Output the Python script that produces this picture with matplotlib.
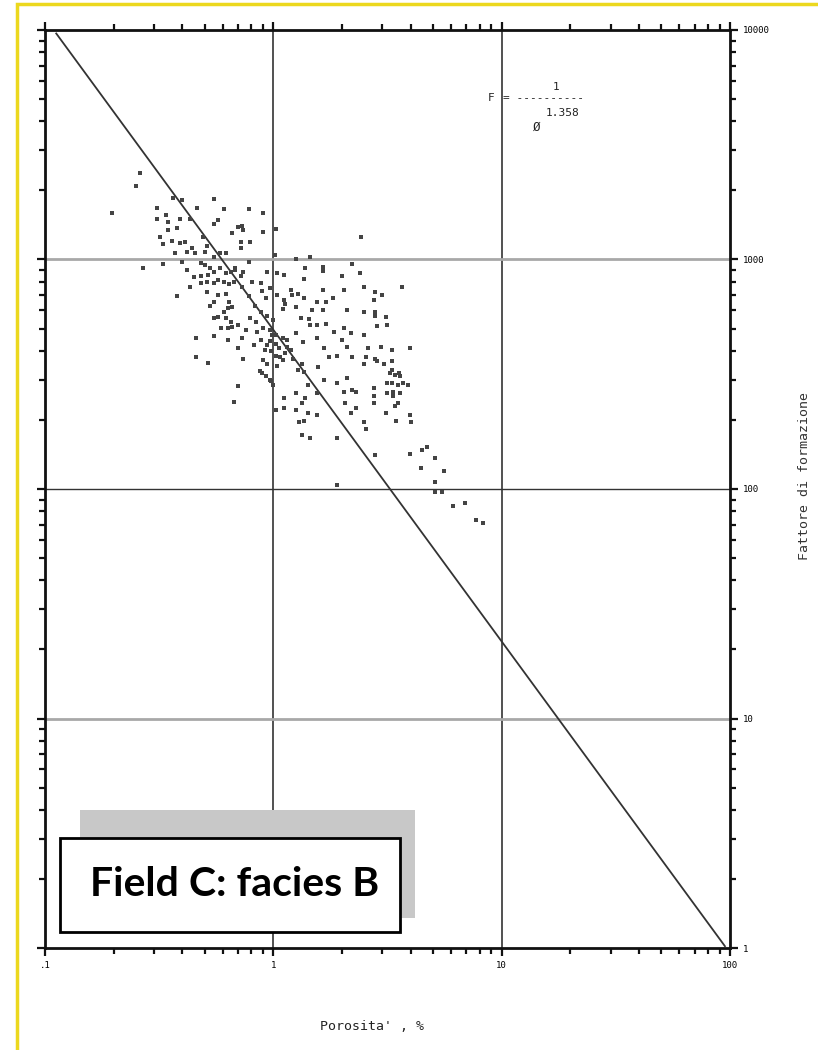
"""
Formation factor vs porosity cross-plot (Field C, facies B).
Log-log scatter with the Archie-type fit F = 1 / phi^1.358.
"""

import matplotlib
matplotlib.use("Agg")
import matplotlib.pyplot as plt
import numpy as np
from matplotlib.patches import Rectangle
from matplotlib.ticker import FixedLocator, FixedFormatter, LogLocator, NullFormatter

# --------------------------------------------------------------------------- #
# Data: porosity in %, formation factor F
# --------------------------------------------------------------------------- #
SAMPLES = [
    (0.261, 2380), (0.25, 2100), (0.196, 1590), (0.31, 1670), (0.31, 1500),
    (0.365, 1850), (0.40, 1815), (0.34, 1560), (0.345, 1460), (0.39, 1500),
    (0.38, 1370), (0.347, 1345), (0.32, 1250), (0.33, 1170), (0.36, 1205),
    (0.39, 1180), (0.41, 1190), (0.43, 1500), (0.465, 1670), (0.55, 1830),
    (0.61, 1660), (0.57, 1490), (0.55, 1430), (0.49, 1250), (0.51, 1150),
    (0.44, 1120), (0.42, 1075), (0.455, 1065), (0.50, 1080), (0.55, 1030),
    (0.585, 1070), (0.62, 1070), (0.66, 1310), (0.70, 1385), (0.37, 1065),
    (0.33, 960), (0.27, 920), (0.40, 975), (0.48, 965), (0.50, 950),
    (0.53, 920), (0.42, 900), (0.52, 860), (0.55, 880), (0.585, 920),
    (0.62, 870), (0.65, 880), (0.68, 920), (0.45, 835), (0.48, 845),
    (0.48, 790), (0.43, 760), (0.51, 800), (0.55, 790), (0.57, 815),
    (0.61, 800), (0.64, 780), (0.67, 800), (0.51, 720), (0.57, 700),
    (0.62, 710), (0.64, 650), (0.38, 690), (0.55, 650), (0.53, 630),
    (0.63, 615), (0.66, 620), (0.61, 590), (0.55, 555), (0.57, 560),
    (0.62, 555), (0.65, 535), (0.59, 505), (0.63, 505), (0.66, 510),
    (0.70, 520), (0.55, 465), (0.46, 455), (0.63, 446), (0.70, 410),
    (0.46, 375), (0.52, 355), (0.70, 280), (0.67, 240),
    (0.78, 1660), (0.90, 1590), (0.73, 1400), (0.74, 1345), (0.90, 1320),
    (1.03, 1360), (0.72, 1190), (0.79, 1190), (0.72, 1120), (2.41, 1255),
    (1.02, 1050), (1.26, 1010), (1.45, 1030), (2.2, 960), (0.78, 975),
    (0.68, 900), (0.74, 880), (0.94, 880), (1.04, 870), (1.11, 860),
    (1.38, 920), (1.65, 930), (1.65, 890), (2.0, 850), (2.4, 870),
    (0.72, 845), (0.81, 800), (0.88, 790), (0.73, 760), (0.97, 750),
    (0.89, 730), (1.04, 700), (1.28, 710), (1.19, 740), (1.36, 820),
    (1.65, 740), (2.03, 735), (0.78, 690), (0.93, 680), (1.11, 665),
    (1.21, 700), (1.36, 680), (1.56, 650), (1.82, 680), (0.83, 630),
    (1.13, 640), (1.26, 620), (1.7, 650), (2.1, 600), (2.5, 590),
    (0.88, 590), (0.94, 570), (1.1, 610), (1.32, 555), (1.47, 600),
    (1.65, 600), (1.0, 545), (1.44, 550), (1.56, 520), (1.45, 520),
    (1.7, 525), (2.03, 505), (0.90, 505), (0.85, 485), (1.26, 480),
    (1.56, 455), (1.85, 485), (2.18, 480), (2.0, 446), (2.5, 470),
    (1.1, 455), (0.97, 440), (1.03, 470), (1.35, 435), (1.15, 415),
    (1.67, 410), (0.82, 425), (0.73, 455), (2.1, 415),
    (1.03, 380), (1.07, 375), (1.13, 390), (0.89, 320), (0.87, 328),
    (0.93, 310), (0.97, 300), (0.98, 295), (0.74, 370), (0.94, 350),
    (1.04, 345), (1.0, 285), (1.03, 221), (1.11, 248), (1.11, 225),
    (1.26, 262), (1.26, 221), (1.33, 237), (1.38, 250), (1.42, 285),
    (1.56, 262), (1.3, 195), (1.36, 198), (1.42, 215), (1.56, 210),
    (1.34, 172), (1.45, 166), (1.9, 166), (1.9, 104), (1.22, 370),
    (1.33, 350), (1.36, 325), (1.28, 330), (1.57, 340), (1.75, 375),
    (1.9, 290), (1.67, 299), (2.03, 265), (2.2, 270), (2.3, 265),
    (2.18, 215), (2.06, 237), (2.3, 225), (2.2, 375), (2.1, 305),
    (1.9, 380),
    (3.65, 760), (2.5, 760), (2.8, 720), (3.0, 700), (2.75, 666),
    (2.8, 590), (2.8, 570), (3.1, 560), (2.85, 515), (3.15, 520),
    (2.6, 410), (2.95, 415), (3.3, 405), (3.95, 410), (2.55, 375),
    (2.8, 370), (2.85, 360), (3.05, 350), (3.3, 360), (2.5, 350),
    (3.3, 330), (3.25, 320), (3.4, 315), (3.6, 310), (3.55, 320),
    (3.15, 290), (3.3, 290), (3.5, 285), (3.7, 290), (3.9, 285),
    (2.75, 275), (3.15, 262), (3.35, 265), (3.6, 262), (3.35, 255),
    (2.75, 255), (2.75, 237), (3.5, 237), (3.4, 230), (3.1, 215),
    (3.95, 210), (3.45, 198), (4.0, 195), (2.5, 195), (2.55, 183),
    (2.8, 140), (3.95, 142), (4.45, 124), (4.5, 148), (4.7, 152),
    (5.1, 136), (5.6, 120), (5.1, 107), (5.1, 97), (5.5, 97),
    (6.1, 84), (6.9, 87), (7.7, 73), (8.3, 71),
    (0.97, 493), (0.99, 470), (1.03, 430), (1.06, 410), (0.98, 400),
    (1.1, 365), (0.88, 446), (0.92, 403), (0.79, 555), (0.84, 535),
    (0.76, 493), (0.9, 365), (0.94, 425), (1.19, 403), (1.15, 446),
]

# fitted relation, porosity as fraction: F = A / phi^M
FIT_M = 1.358
FIT_A = 0.95
FIT_RANGE = (0.112, 95.0)          # porosity %, extent of drawn fit line

X_TICKS = [0.1, 1, 10, 100]
X_LABELS = [".1", "1", "10", "100"]
Y_TICKS = [1, 10, 100, 1000, 10000]
Y_LABELS = ["1", "10", "100", "1000", "10000"]

MONO = "DejaVu Sans Mono"
W, H = 818, 1050


def fig_xy(px, py):
    """Pixel position on the 818x1050 canvas -> figure fraction."""
    return px / W, 1 - py / H


def main() -> None:
    phi, ff = np.array(SAMPLES).T

    fig = plt.figure(figsize=(W / 100, H / 100), dpi=100)
    fig.patch.set_facecolor("white")

    # yellow frame of the slide (runs off right/bottom edge)
    fig.add_artist(Rectangle(fig_xy(17, 1100), 2.0, (1100 - 4) / H,
                             transform=fig.transFigure, fill=False,
                             edgecolor="#ecd81e", lw=2.5, zorder=0))

    ax = fig.add_axes([45 / W, (H - 948) / H, 685 / W, 918 / H])
    ax.set_xscale("log")
    ax.set_yscale("log")
    ax.set_xlim(0.1, 100)
    ax.set_ylim(1, 10000)

    # grid at decades only (scanned look: some lines grey and thicker)
    for xv in [1, 10]:
        ax.axvline(xv, color="#222222", lw=1.1, zorder=1)
    ax.axhline(100, color="#333333", lw=1.0, zorder=1)
    for yv in [10, 1000]:
        ax.axhline(yv, color="#a8a8a8", lw=2.0, zorder=1)

    # fit line
    phi_line = np.logspace(np.log10(FIT_RANGE[0]), np.log10(FIT_RANGE[1]), 50)
    f_line = FIT_A * (phi_line / 100.0) ** (-FIT_M)
    ax.plot(phi_line, f_line, color="#333333", lw=1.3, zorder=2)

    # samples
    ax.scatter(phi, ff, s=6, marker="s", c="#444444", linewidths=0, zorder=3)

    # ----- axes styling -------------------------------------------------- #
    for sp in ax.spines.values():
        sp.set_linewidth(2.0)
        sp.set_color("#111111")

    ax.xaxis.set_major_locator(FixedLocator(X_TICKS))
    ax.xaxis.set_major_formatter(FixedFormatter(X_LABELS))
    ax.xaxis.set_minor_locator(LogLocator(base=10, subs=np.arange(2, 10)))
    ax.xaxis.set_minor_formatter(NullFormatter())
    ax.yaxis.set_major_locator(FixedLocator(Y_TICKS))
    ax.yaxis.set_major_formatter(FixedFormatter(Y_LABELS))
    ax.yaxis.set_minor_locator(LogLocator(base=10, subs=np.arange(2, 10)))
    ax.yaxis.set_minor_formatter(NullFormatter())

    ax.tick_params(which="both", direction="out", width=1.6, color="#111111",
                   top=True, bottom=True, left=True, right=True,
                   labelleft=False, labelright=True,
                   labeltop=False, labelbottom=True)
    ax.tick_params(which="major", length=6, labelsize=6.5, pad=3)
    ax.tick_params(which="minor", length=4)
    for lab in ax.get_xticklabels() + ax.get_yticklabels():
        lab.set_family(MONO)

    # axis titles (placed like the original printout)
    fig.text(*fig_xy(320, 1027), "Porosita' , %", family=MONO, fontsize=9.5,
             ha="left", va="center", color="#222222")
    fig.text(*fig_xy(804, 476), "Fattore di formazione", family=MONO,
             fontsize=9.5, rotation=90, ha="center", va="center",
             color="#333333")

    # equation label
    eq = dict(family=MONO, fontsize=8, color="#222222", va="center")
    fig.text(*fig_xy(488, 98), "F", **eq)
    fig.text(*fig_xy(503, 98), "= ----------", **eq)
    fig.text(*fig_xy(553, 87), "1", **eq)
    fig.text(*fig_xy(533, 127), "\u00d8", family=MONO, fontsize=9,
             color="#222222", va="center")
    fig.text(*fig_xy(546, 113), f"{FIT_M:.3f}", **eq)

    # caption box with grey drop shadow
    fig.add_artist(Rectangle(fig_xy(80, 918), 335 / W, 108 / H,
                             transform=fig.transFigure, facecolor="#c8c8c8",
                             edgecolor="none", zorder=5))
    fig.add_artist(Rectangle(fig_xy(60, 932), 340 / W, 94 / H,
                             transform=fig.transFigure, facecolor="white",
                             edgecolor="black", lw=2.0, zorder=6))
    fig.text(*fig_xy(235, 885), "Field C: facies B", family="Lato",
             fontweight="bold", fontsize=29.5, ha="center", va="center",
             color="black", zorder=7)

    fig.savefig("out.png", dpi=100)


if __name__ == "__main__":
    main()
